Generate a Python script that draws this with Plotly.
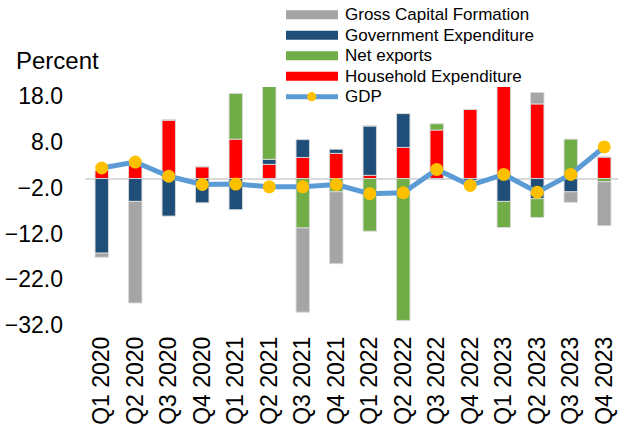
import plotly.graph_objects as go

quarters = ["Q1 2020", "Q2 2020", "Q3 2020", "Q4 2020",
            "Q1 2021", "Q2 2021", "Q3 2021", "Q4 2021",
            "Q1 2022", "Q2 2022", "Q3 2022", "Q4 2022",
            "Q1 2023", "Q2 2023", "Q3 2023", "Q4 2023"]

household = [1.8, 2.9, 12.8, 2.6, 8.6, 3.1, 4.6, 5.5, 0.7, 6.8, 10.6, 15.1, 20.5, 16.3, 0.0, 4.7]
government = [-16.3, -5.0, -8.2, -5.3, -6.8, 1.1, 3.9, 0.9, 10.8, 7.4, -0.2, -0.4, -5.0, -4.4, -2.9, 0.0]
net_exports = [0.0, 0.0, 0.0, 0.0, 10.0, 16.5, -10.8, -2.9, -11.5, -31.0, 1.4, 0.0, -5.7, -4.1, 8.6, -0.7]
gross_capital = [-0.9, -22.2, 0.0, 0.0, 0.0, 0.0, -18.4, -15.7, 0.0, 0.0, 0.0, 0.0, 0.0, 2.5, -2.3, -9.6]
gdp = [2.3, 3.6, 0.5, -1.3, -1.2, -1.8, -1.8, -1.3, -3.3, -3.1, 2.0, -1.5, 0.9, -3.0, 0.9, 6.9]

y_ticks = [-32, -22, -12, -2, 8, 18]

legend_names = ["Gross Capital Formation", "Government Expenditure", "Net exports",
                "Household Expenditure", "GDP"]

C_GCF = "#A5A5A5"
C_GOV = "#1F4E79"
C_NX = "#70AD47"
C_HH = "#FF0000"
C_GDP = "#5B9BD5"
C_MK = "#FFC000"

FONT = "Liberation Sans, Arial, sans-serif"

W, H = 618, 433
ML, MR, MT, MB = 85, 0, 87, 108
PW, PH = W - ML - MR, H - MT - MB


def px_x(px):
    return (px - ML) / PW


def px_y(py):
    return 1 - (py - MT) / PH


fig = go.Figure()

bar_line = dict(color="rgba(217,217,217,0.9)", width=1)
for name, vals, col in [("Household Expenditure", household, C_HH),
                        ("Government Expenditure", government, C_GOV),
                        ("Net exports", net_exports, C_NX),
                        ("Gross Capital Formation", gross_capital, C_GCF)]:
    fig.add_trace(go.Bar(x=quarters, y=vals, name=name, marker=dict(color=col, line=bar_line),
                         showlegend=False, width=0.4))

fig.add_trace(go.Scatter(x=quarters, y=gdp, name="GDP", mode="lines+markers",
                         line=dict(color=C_GDP, width=5),
                         marker=dict(color=C_MK, size=13, line=dict(width=0)),
                         showlegend=False))

# manual legend (wide swatches as in the reference)
shapes = []
annotations = []
row_y = [14.7, 35.2, 55.7, 76.2, 96.7]
sw_cols = [C_GCF, C_GOV, C_NX, C_HH]
for i, name in enumerate(legend_names):
    ry = row_y[i]
    if i < 4:
        shapes.append(dict(type="rect", xref="paper", yref="paper",
                           x0=px_x(286), x1=px_x(338), y0=px_y(ry + 4.5), y1=px_y(ry - 4.5),
                           fillcolor=sw_cols[i], line=dict(width=0), layer="above"))
    else:
        shapes.append(dict(type="line", xref="paper", yref="paper",
                           x0=px_x(286), x1=px_x(338), y0=px_y(ry), y1=px_y(ry),
                           line=dict(color=C_GDP, width=5), layer="above"))
        shapes.append(dict(type="circle", xref="paper", yref="paper",
                           x0=px_x(311.7 - 4.6), x1=px_x(311.7 + 4.6),
                           y0=px_y(ry + 4.6), y1=px_y(ry - 4.6),
                           fillcolor=C_MK, line=dict(width=0), layer="above"))
    annotations.append(dict(text=name, xref="paper", yref="paper", x=px_x(343), y=px_y(ry),
                            xanchor="left", yanchor="middle", showarrow=False,
                            font=dict(family=FONT, size=17, color="black")))

annotations.append(dict(text="Percent", xref="paper", yref="paper", x=px_x(14), y=px_y(61),
                        xanchor="left", yanchor="middle", showarrow=False,
                        font=dict(family=FONT, size=24, color="black")))

fig.update_layout(
    width=W, height=H,
    margin=dict(l=ML, r=MR, t=MT, b=MB, autoexpand=False),
    barmode="relative",
    bargap=0.6,
    plot_bgcolor="white",
    paper_bgcolor="white",
    font=dict(family=FONT, color="black", size=23),
    showlegend=False,
    xaxis=dict(range=[-0.5, 15.41], tickangle=-90, showgrid=False, showline=False,
               ticks="", tickfont=dict(size=23), ticklabelstandoff=6, automargin=False),
    yaxis=dict(range=[-32, 20], tickvals=y_ticks, tickformat=".1f", showgrid=False,
               showline=False, ticks="", zeroline=True, zerolinecolor="#D9D9D9",
               zerolinewidth=2, tickfont=dict(size=23), ticklabelstandoff=21, automargin=False),
    shapes=shapes,
    annotations=annotations,
)

fig.write_html("out.html",
               config={"displayModeBar": False},
               post_script="document.body.style.margin='0px';document.body.style.padding='0px';")
